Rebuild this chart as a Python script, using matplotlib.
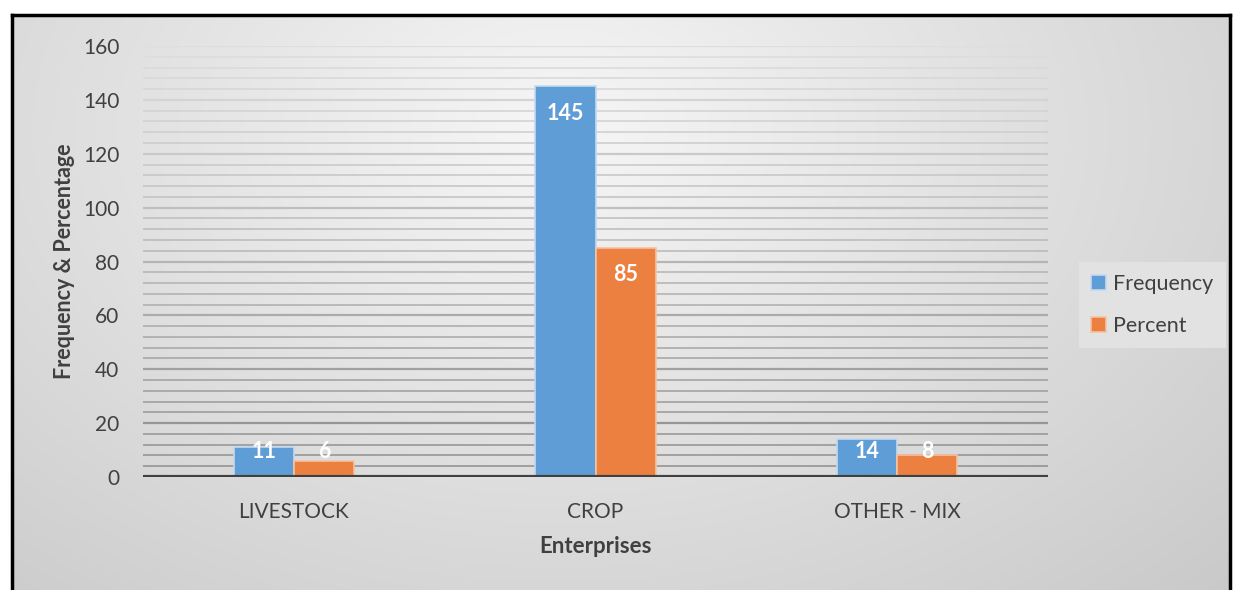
import matplotlib
matplotlib.use("Agg")
import matplotlib.pyplot as plt
import numpy as np

# data
categories = ["LIVESTOCK", "CROP", "OTHER - MIX"]
frequency = [11, 145, 14]
percent = [6, 85, 8]
series_names = ["Frequency", "Percent"]

plt.rcParams['font.family'] = ['Lato', 'DejaVu Sans']

W, H = 1233, 590
fig = plt.figure(figsize=(W / 100, H / 100), dpi=100)
fig.patch.set_facecolor("white")

# gradient background panel with black frame
bg = fig.add_axes([12 / W, 0, (1230 - 12) / W, (590 - 15) / H])
yy, xx = np.mgrid[0:1:200j, 0:1:400j]
r = np.sqrt(((xx - 0.45) / 0.75) ** 2 + ((yy - 0.2) / 1.1) ** 2)
shade = 0.965 - 0.17 * np.clip(r, 0, 1.3)
bg.imshow(np.dstack([shade] * 3), aspect="auto", extent=[0, 1, 0, 1], origin="upper")
bg.set_xticks([])
bg.set_yticks([])
for side in ["left", "top", "right"]:
    bg.spines[side].set_linewidth(2.5)
    bg.spines[side].set_color("black")
bg.spines["bottom"].set_visible(False)

ax = fig.add_axes([143 / W, (590 - 477) / H, (1048 - 143) / W, (477 - 46) / H])
ax.patch.set_alpha(0)

x = np.arange(len(categories))
w = 0.2

# gridlines: minor every 4, major every 20, darker toward the bottom
for v in np.arange(4, 161, 4):
    t = v / 160
    g = 0.55 + 0.32 * t
    major = v % 20 == 0
    ax.axhline(v, color=(g, g, g), lw=1.6 if major else 1.1, zorder=0)

b1 = ax.bar(x - w / 2, frequency, w, color="#5f9dd6", edgecolor="#c5d9ef", lw=1.2,
            label=series_names[0], zorder=2)
b2 = ax.bar(x + w / 2, percent, w, color="#ec8040", edgecolor="#f5c3a0", lw=1.2,
            label=series_names[1], zorder=2)

for bars, vals in [(b1, frequency), (b2, percent)]:
    for rect, v in zip(bars, vals):
        ax.text(rect.get_x() + rect.get_width() / 2, max(v - 10, 9.3), str(v),
                ha="center", va="center", color="white", fontsize=15.5,
                fontweight="bold", zorder=3)

ax.axhline(0, color="#404040", lw=3, zorder=3)

ax.set_xlim(-0.5, 2.5)
ax.set_ylim(0, 160)
ax.set_yticks(range(0, 161, 20))
ax.set_xticks(x)
ax.set_xticklabels(categories)
ax.tick_params(length=0, labelsize=15, labelcolor="#404040")
ax.tick_params(axis="y", pad=17)
ax.tick_params(axis="x", pad=18)
for s in ax.spines.values():
    s.set_visible(False)

ax.set_xlabel("Enterprises", fontsize=16, fontweight="bold", color="#404040", labelpad=10)
ax.set_ylabel("Frequency & Percentage", fontsize=15.5, fontweight="bold", color="#404040",
              labelpad=6)

leg = fig.legend(handles=[b1, b2], labels=series_names, loc="center left",
                 bbox_to_anchor=(1079 / W, (590 - 305) / H), borderaxespad=0,
                 fontsize=15.5, frameon=True, facecolor="#e2e2e2", edgecolor="none",
                 framealpha=1, handlelength=0.7, handleheight=0.7, handletextpad=0.35,
                 labelspacing=1.05, borderpad=0.55, fancybox=False)
for t in leg.get_texts():
    t.set_color("#404040")

fig.savefig("out.png", dpi=100)
